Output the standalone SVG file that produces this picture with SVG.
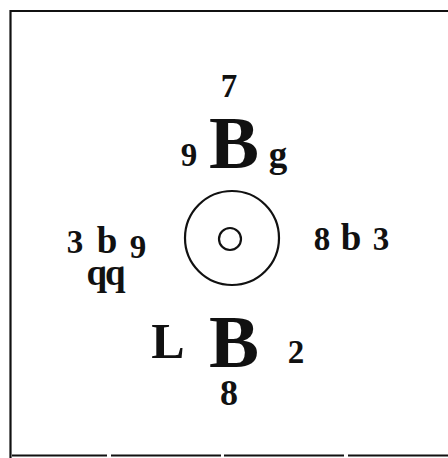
<svg xmlns="http://www.w3.org/2000/svg" width="448" height="458" viewBox="0 0 448 458">
<style>
text{font-family:"Liberation Serif","DejaVu Serif",serif;font-weight:bold;fill:#111;text-anchor:middle}
.s{font-size:33px}
.m{font-size:37px}
.big{font-size:75px}
.frame{fill:none;stroke:#111;stroke-width:2.2}
.ring{fill:none;stroke:#111;stroke-width:2.2}
</style>
<rect width="448" height="458" fill="#fff"/>
<g id="frame">
<path class="frame" d="M10.5 458 V11 H448"/>
<path class="frame" d="M12 455.5 H448" stroke-dasharray="95 4 110 3 120 4 120" stroke-width="2"/>
</g>
<g id="top">
<text class="s" x="229" y="97">7</text>
<text class="big" x="234" y="168">B</text>
<text class="s" x="189" y="166">9</text>
<text class="m" x="278" y="167">g</text>
</g>
<g id="center">
<circle class="ring" cx="232" cy="238" r="47"/>
<circle class="ring" cx="230" cy="239" r="11"/>
</g>
<g id="left">
<text class="s" x="75" y="253">3</text>
<text class="m" x="107" y="253">b</text>
<text class="s" x="138" y="258">9</text>
<text class="m" x="105" y="285" letter-spacing="-2">qq</text>
</g>
<g id="right">
<text class="s" x="322" y="250">8</text>
<text class="m" x="351" y="250">b</text>
<text class="s" x="381" y="250">3</text>
</g>
<g id="bottom">
<text x="168" y="358" style="font-size:50px">L</text>
<text class="big" x="234" y="367">B</text>
<text class="s" x="296" y="363">2</text>
<text x="229" y="405" style="font-size:36px">8</text>
</g>
<g id="connectors"></g>
</svg>
